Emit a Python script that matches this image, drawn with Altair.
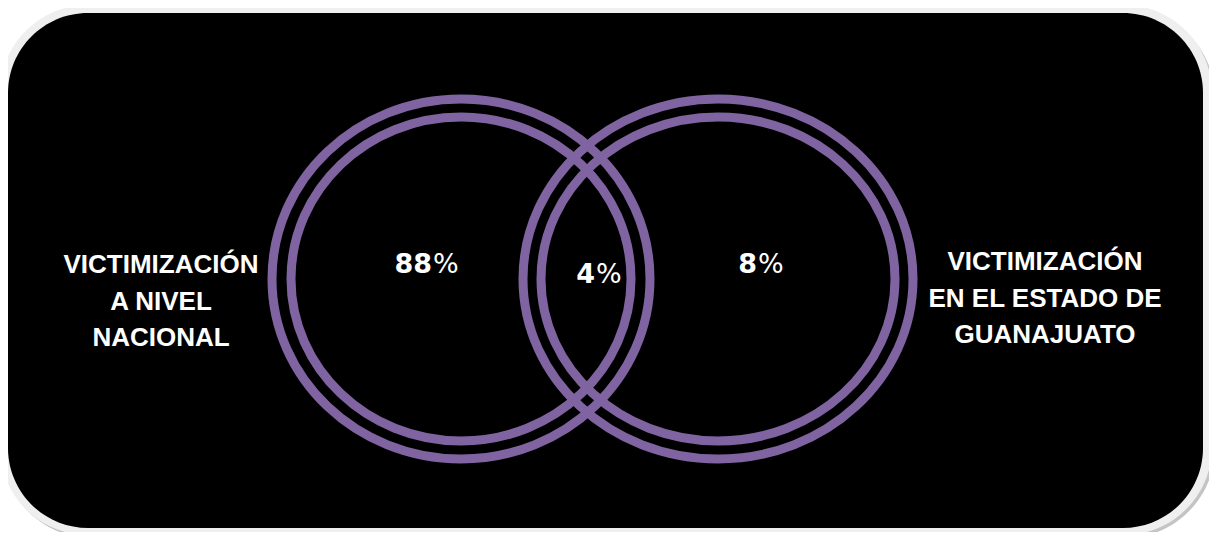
import altair as alt
import pandas as pd

# ---- data ----
set_labels = ["VICTIMIZACIÓN\nA NIVEL\nNACIONAL", "VICTIMIZACIÓN\nEN EL ESTADO DE\nGUANAJUATO"]
region_names = ["Solo nacional", "Ambos", "Solo Guanajuato"]
region_values = [88, 4, 8]

# ---- layout (separate from data) ----
W, H = 1201, 524
set_x = [153, 1037]
set_y = [265, 262]
ring_set = ["nacional", "nacional", "guanajuato", "guanajuato"]
ring_cx = [453, 453, 710, 710]
ring_cy = [271, 271, 271, 271]
ring_rx = [189, 170, 195, 177]
ring_ry = [180, 162, 180, 162]
val_x = [424, 587, 749]
val_y = [265, 275, 265]

PURPLE = "#8064A2"

xs = alt.Scale(domain=[0, W], nice=False, zero=False)
ys = alt.Scale(domain=[H, 0], nice=False, zero=False)


def ellipse_path(rx, ry):
    k = round(rx / ry, 4)
    return f"M{-k},0A{k},1,0,1,1,{k},0A{k},1,0,1,1,{-k},0Z"


rings = pd.DataFrame({
    "set": ring_set,
    "cx": ring_cx,
    "cy": ring_cy,
    "path": [ellipse_path(a, b) for a, b in zip(ring_rx, ring_ry)],
    "size": [(2 * b) ** 2 for b in ring_ry],
})
labels = pd.DataFrame({"label": set_labels, "x": set_x, "y": set_y})
vals = pd.DataFrame({
    "region": region_names,
    "num": [str(v) for v in region_values],
    "pct": ["%"] * 3,
    "x": val_x,
    "y": val_y,
})

one = alt.Data(values=[{}])

shadow = alt.Chart(one).mark_rect(cornerRadius=90, color="#c4c4c4").encode(
    x=alt.value(-6), x2=alt.value(1207), y=alt.value(0), y2=alt.value(530))
frame = alt.Chart(one).mark_rect(cornerRadius=88, color="#efefef").encode(
    x=alt.value(-8), x2=alt.value(1204), y=alt.value(-3), y2=alt.value(527))
panel = alt.Chart(one).mark_rect(cornerRadius=80, color="#000000").encode(
    x=alt.value(0), x2=alt.value(1195), y=alt.value(5), y2=alt.value(520))

ring_layer = alt.Chart(rings).mark_point(
    filled=False, strokeWidth=9, color=PURPLE, opacity=1
).encode(
    x=alt.X("cx:Q", scale=xs, axis=None),
    y=alt.Y("cy:Q", scale=ys, axis=None),
    shape=alt.Shape("path:N", scale=None, legend=None),
    size=alt.Size("size:Q", scale=None, legend=None),
)

label_layer = alt.Chart(labels).mark_text(
    lineBreak="\n", fontSize=26, fontWeight="bold", font="Liberation Sans",
    color="white", align="center", baseline="alphabetic", lineHeight=36.5
).encode(
    x=alt.X("x:Q", scale=xs, axis=None),
    y=alt.Y("y:Q", scale=ys, axis=None),
    text="label:N",
)

num_layer = alt.Chart(vals).mark_text(
    fontSize=27, fontWeight="bold", font="DejaVu Sans", color="white",
    align="right", baseline="alphabetic"
).encode(
    x=alt.X("x:Q", scale=xs, axis=None),
    y=alt.Y("y:Q", scale=ys, axis=None),
    text="num:N",
)

pct_layer = alt.Chart(vals).mark_text(
    fontSize=27, fontWeight="normal", font="DejaVu Sans", color="white",
    align="left", baseline="alphabetic", dx=1
).encode(
    x=alt.X("x:Q", scale=xs, axis=None),
    y=alt.Y("y:Q", scale=ys, axis=None),
    text="pct:N",
)

chart = alt.layer(
    shadow, frame, panel, ring_layer, label_layer, num_layer, pct_layer
).properties(
    width=W, height=H, padding=0, autosize=alt.AutoSizeParams(type="none"),
    background="white"
).configure_view(stroke=None)

chart.save("out.html", embed_options={"renderer": "svg", "actions": False})
